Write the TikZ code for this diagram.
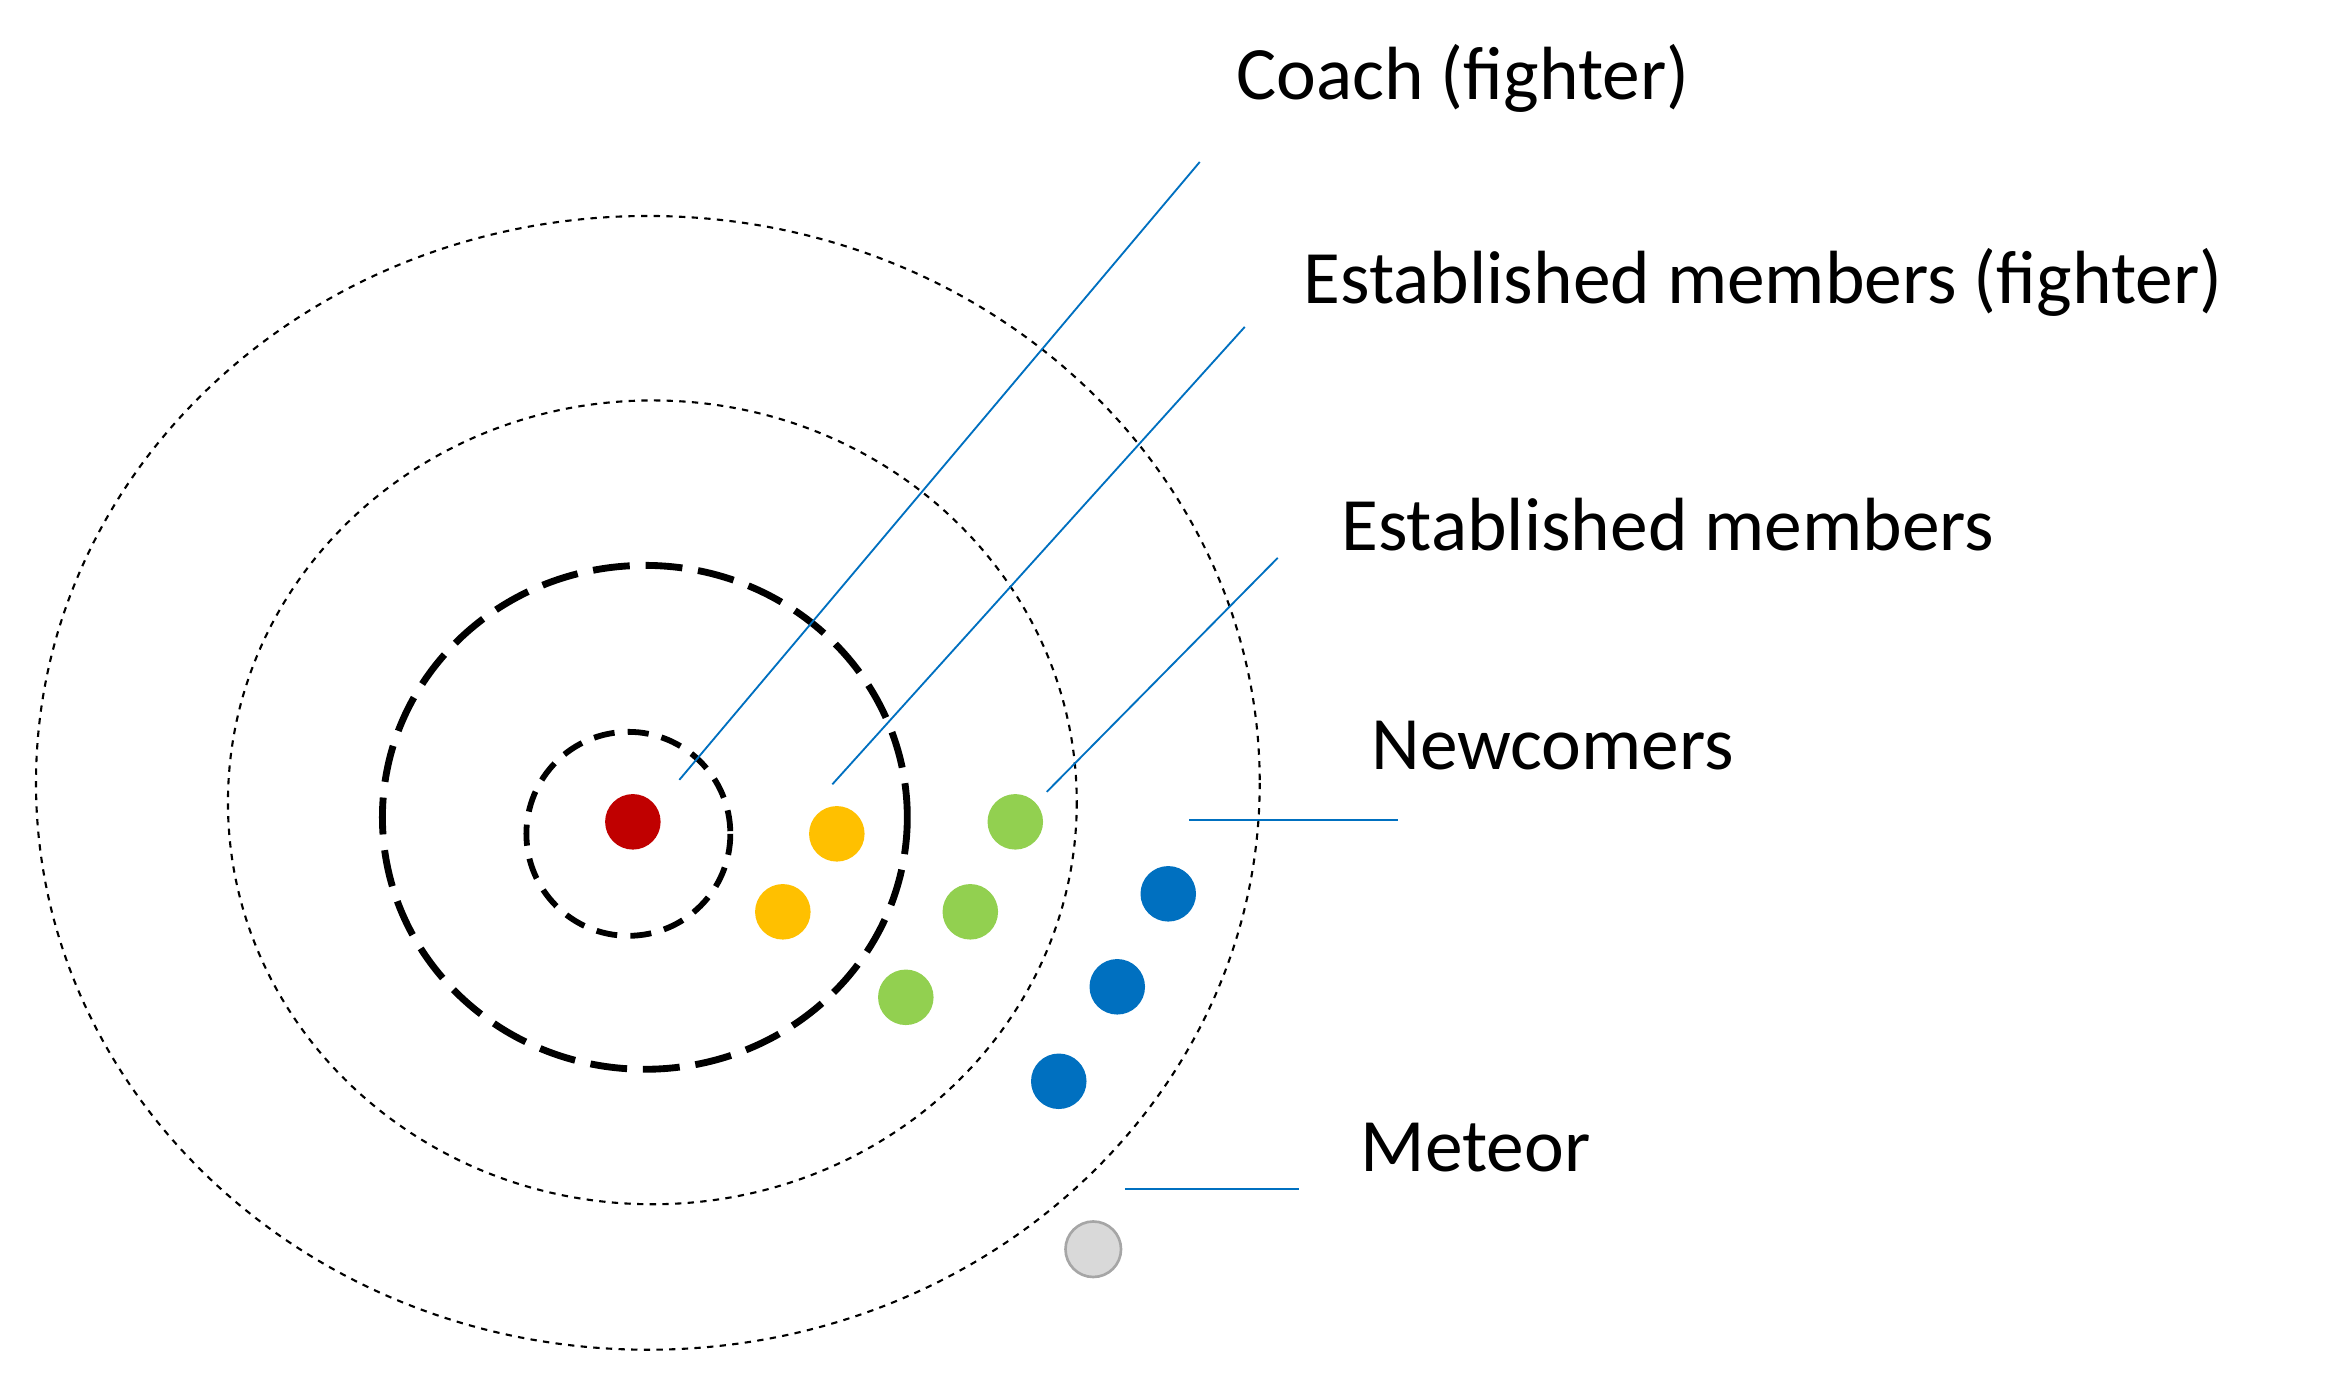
\documentclass[tikz,border=0pt]{standalone}
\usepackage{fontspec}
\setmainfont{Carlito}
\begin{document}
\begin{tikzpicture}[x=0.01cm,y=-0.01cm,
  dot/.style={circle,minimum size=0.37cm,inner sep=0pt},
  lbl/.style={anchor=west,font=\fontsize{14.3}{16}\selectfont},
  lead/.style={draw={rgb,255:red,0;green,112;blue,192},line width=0.35pt}]
\useasboundingbox (0,0) rectangle (1563,933);
\draw[dash pattern=on 1.2pt off 1.2pt,line width=0.4pt] (432,522) ellipse [x radius=408,y radius=378];
\draw[dash pattern=on 1.2pt off 1.2pt,line width=0.4pt] (435,535) ellipse [x radius=283,y radius=268];
\draw[dash pattern=on 7pt off 3pt,line width=1.3pt] (430,545) ellipse [x radius=175,y radius=168];
\draw[dash pattern=on 4pt off 2.5pt,line width=1.1pt] (419,556) ellipse [x radius=68,y radius=68];
\definecolor{cred}{RGB}{192,0,0}
\definecolor{corange}{RGB}{255,192,0}
\definecolor{cgreen}{RGB}{146,208,80}
\definecolor{cblue}{RGB}{0,112,192}
\definecolor{cgray}{RGB}{217,217,217}
\node[dot,fill=cred] (r) at (422,548) {};
\node[dot,fill=corange] (o1) at (558,556) {};
\node[dot,fill=corange] (o2) at (522,608) {};
\node[dot,fill=cgreen] (g1) at (677,548) {};
\node[dot,fill=cgreen] (g2) at (647,608) {};
\node[dot,fill=cgreen] (g3) at (604,665) {};
\node[dot,fill=cblue] (b1) at (779,596) {};
\node[dot,fill=cblue] (b2) at (745,658) {};
\node[dot,fill=cblue] (b3) at (706,721) {};
\node[dot,fill=cgray,draw=gray!70,line width=0.5pt] (m) at (729,833) {};
\coordinate (c1a) at (453,520); \coordinate (c1b) at (800,108);
\coordinate (c2a) at (555,523); \coordinate (c2b) at (830,218);
\coordinate (c3a) at (698,528); \coordinate (c3b) at (852,372);
\coordinate (c4a) at (793,547); \coordinate (c4b) at (932,547);
\coordinate (c5a) at (750,793); \coordinate (c5b) at (866,793);
\draw[lead] (c1a) -- (c1b);
\draw[lead] (c2a) -- (c2b);
\draw[lead] (c3a) -- (c3b);
\draw[lead] (c4a) -- (c4b);
\draw[lead] (c5a) -- (c5b);
\node[lbl] (t1) at (812,52) {Coach (fighter)};
\node[lbl] (t2) at (857,188) {Established members (fighter)};
\node[lbl] (t3) at (882,350) {Established members};
\node[lbl] (t4) at (902,497) {Newcomers};
\node[lbl] (t5) at (895,765) {Meteor};
\end{tikzpicture}
\end{document}
